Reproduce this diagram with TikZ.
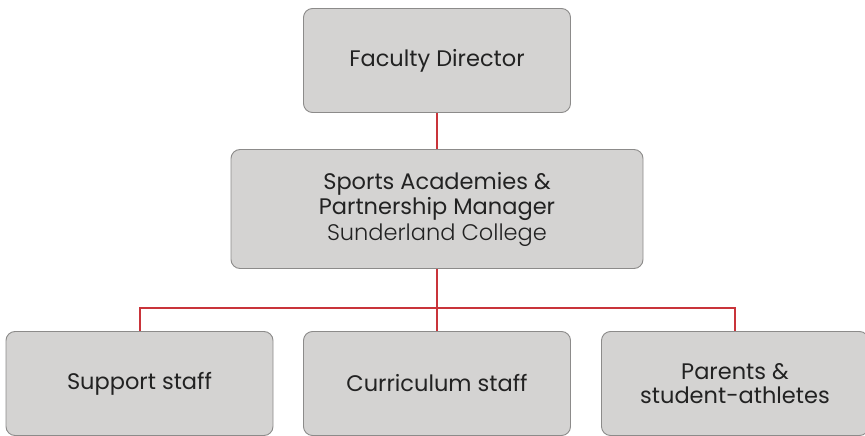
\documentclass[tikz,border=0pt]{standalone}
\usepackage{fontspec}
\setmainfont{Poppins}
\newfontfamily\lightfont{Poppins Light}
\usetikzlibrary{positioning}
\definecolor{boxfill}{HTML}{D4D3D2}
\definecolor{boxline}{HTML}{8C8B8A}
\definecolor{linkred}{HTML}{C9343A}
\definecolor{textgrey}{HTML}{222222}

\begin{document}
\begin{tikzpicture}[x=1pt,y=-1pt,
    role/.style={draw=boxline,fill=boxfill,rounded corners=9pt,line width=0.9pt,
      minimum width=267pt,minimum height=104pt,align=center,
      text=textgrey,font=\fontsize{22.5}{25.5}\selectfont,inner sep=0pt},
    link/.style={draw=linkred,line width=2pt}]
    \useasboundingbox (0,0) rectangle (865,436);
    \node[role] at (437,60.5) (director) {Faculty Director};
    \node[role,minimum width=412pt,minimum height=119pt] at (437,209) (manager)
      {Sports Academies \&\\Partnership Manager\\{\lightfont Sunderland College}};
    \node[role] at (139.5,383.5) (support) {Support staff};
    \node[role] at (437,383.5) (curriculum) {Curriculum staff};
    \node[role,font=\fontsize{22.5}{24}\selectfont] at (735,383.5) (parents) {Parents \&\\student-athletes};
    \coordinate (hub) at (437,308);
    \path[link]
    (director) -- (manager)
    (manager) -- (curriculum)
    (support.north) |- (hub) -| (parents.north)
    ;
\end{tikzpicture}
\end{document}
